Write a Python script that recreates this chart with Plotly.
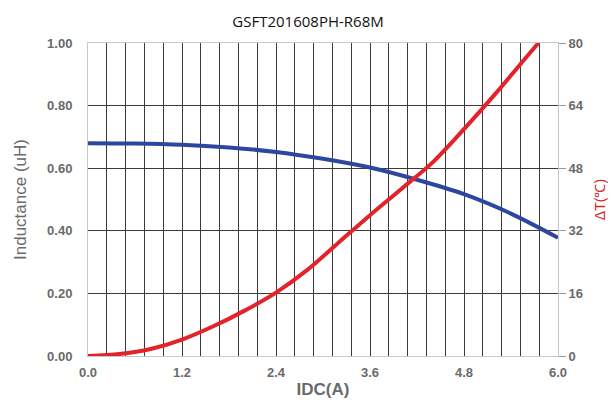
import plotly.graph_objects as go

# Inductance curve (left axis)
idc_L = [0.0, 0.6, 1.2, 1.8, 2.4, 3.0, 3.6, 4.2, 4.8, 5.4, 6.0]
inductance = [0.680, 0.679, 0.675, 0.666, 0.652, 0.630, 0.602, 0.563, 0.517, 0.455, 0.378]

# Temperature rise curve (right axis)
idc_T = [0.0, 0.4, 0.8, 1.2, 1.6, 2.0, 2.4, 2.8, 3.2, 3.6, 4.0, 4.4, 4.8, 5.2, 5.6, 5.75]
delta_T = [0.0, 0.5, 1.8, 4.2, 7.6, 11.6, 16.2, 22.0, 29.0, 36.0, 42.7, 49.5, 58.0, 67.0, 76.5, 80.0]

x_ticks = [0.0, 1.2, 2.4, 3.6, 4.8, 6.0]
y_ticks = [0.0, 0.2, 0.4, 0.6, 0.8, 1.0]
y2_ticks = [0, 16, 32, 48, 64, 80]

tick_font = dict(family="Liberation Sans", size=13, color="#6a6a6a", weight="bold")
grid_col = "#3a3a3a"
axis_col = "#c4c8cc"

fig = go.Figure()
fig.add_trace(go.Scatter(x=idc_L, y=inductance, mode="lines",
                         line=dict(color="#2d47a0", width=4, shape="spline", smoothing=0.8),
                         showlegend=False))
fig.add_trace(go.Scatter(x=idc_T, y=delta_T, mode="lines",
                         line=dict(color="#e3232a", width=4, shape="spline", smoothing=0.8),
                         yaxis="y2", showlegend=False))

fig.update_layout(
    width=600, height=394,
    margin=dict(l=80, r=50, t=35, b=46),
    paper_bgcolor="white", plot_bgcolor="white",
    title=dict(text="GSFT201608PH-R68M", x=0.5, xanchor="center", y=0.966, yanchor="middle",
               font=dict(family="Open Sans", size=15, color="#111111")),
    xaxis=dict(range=[0, 6.0], tickvals=x_ticks, ticktext=[f"{v:.1f}" for v in x_ticks],
               automargin=False,
               showgrid=True, gridcolor=grid_col, gridwidth=1,
               minor=dict(dtick=0.24, tick0=0, showgrid=True, gridcolor=grid_col, gridwidth=1),
               showline=True, linecolor=axis_col, linewidth=1, mirror=True,
               ticks="", tickfont=tick_font, ticklabelstandoff=4,
               title=dict(text="IDC(A)", standoff=4,
                          font=dict(family="Liberation Sans", size=17, color="#6a6a6a", weight="bold")),
               zeroline=False),
    yaxis=dict(range=[0, 1.0], tickvals=y_ticks, ticktext=[f"{v:.2f}" for v in y_ticks],
               automargin=False,
               showgrid=True, gridcolor=grid_col, gridwidth=1,
               showline=True, linecolor=axis_col, linewidth=1,
               ticks="", tickfont=tick_font, ticklabelstandoff=12,
               title=dict(text="Inductance (uH)", standoff=16,
                          font=dict(family="Liberation Sans", size=17, color="#6a6a6a")),
               zeroline=False),
    yaxis2=dict(range=[0, 80], tickvals=y2_ticks, overlaying="y", side="right",
                automargin=False,
                showgrid=False, showline=True, linecolor=axis_col, linewidth=1,
                ticks="outside", ticklen=7, tickcolor="#9a9a9a",
                tickfont=tick_font,
                title=dict(text="ΔT(℃)", standoff=12,
                           font=dict(family="Liberation Sans", size=14, color="#d42a2a")),
                zeroline=False),
)

fig.write_html("out.html")
